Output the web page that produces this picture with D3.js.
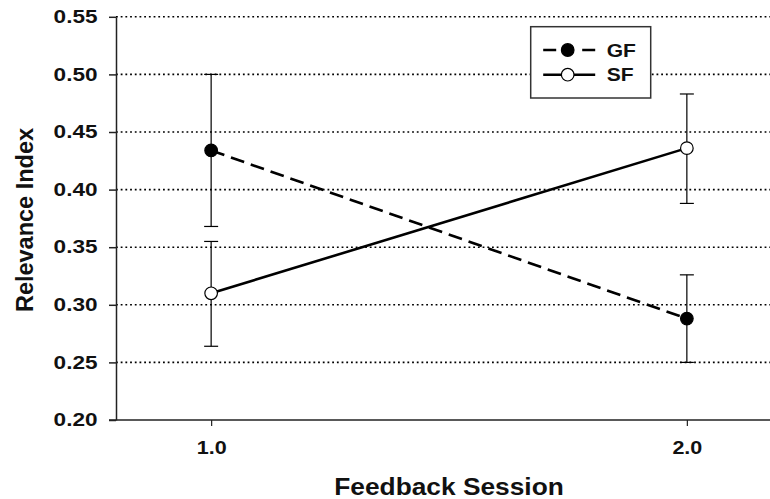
<!DOCTYPE html>
<html>
<head>
<meta charset="utf-8">
<script src="https://cdn.jsdelivr.net/npm/d3@7"></script>
<style>
  body { margin: 0; background: #fff; }
  svg { display: block; font-family: "Liberation Sans", Arial, sans-serif; font-weight: bold; }
</style>
</head>
<body>
<div id="chart"></div>
<script>
const sessions = [1.0, 2.0];
const gfMean = [0.434, 0.288];
const gfLow = [0.368, 0.250];
const gfHigh = [0.500, 0.326];
const sfMean = [0.310, 0.436];
const sfLow = [0.264, 0.388];
const sfHigh = [0.355, 0.483];
const yTicks = [0.20, 0.25, 0.30, 0.35, 0.40, 0.45, 0.50, 0.55];
const xTicks = [1.0, 2.0];

const config = {
  width: 770,
  height: 499,
  margin: {top: 16.8, left: 116, right: -12, bottom: 79},
  dot: {radius: 6.3},
  lineWidth: 2.6
};

const width = config.width, height = config.height, m = config.margin;

const xScale = d3.scaleLinear([0.8, 2.2], [m.left, width - m.right]);
const yScale = d3.scaleLinear([0.20, 0.55], [height - m.bottom, m.top]);

const svg = d3.select("#chart")
  .append("svg")
  .attr("width", width)
  .attr("height", height)
  .attr("viewBox", [0, 0, width, height]);

// dotted grid lines
svg.append("g")
  .selectAll("line")
  .data(yTicks.filter(d => d > 0.2))
  .join("line")
  .attr("x1", m.left)
  .attr("x2", width)
  .attr("y1", d => yScale(d))
  .attr("y2", d => yScale(d))
  .attr("stroke", "#000")
  .attr("stroke-width", 1.6)
  .attr("stroke-dasharray", "1.8,2.9");

const series = [
  {name: "GF", mean: gfMean, low: gfLow, high: gfHigh, fill: "#000", dash: "14,7"},
  {name: "SF", mean: sfMean, low: sfLow, high: sfHigh, fill: "#fff", dash: null}
];

// error bars
series.forEach(s => {
  const g = svg.append("g").attr("stroke", "#000").attr("stroke-width", 1.2);
  g.selectAll(".bar")
    .data(sessions)
    .join("line")
    .attr("x1", d => xScale(d))
    .attr("x2", d => xScale(d))
    .attr("y1", (d, i) => yScale(s.low[i]))
    .attr("y2", (d, i) => yScale(s.high[i]));
  g.selectAll(".capLow")
    .data(sessions)
    .join("line")
    .attr("x1", d => xScale(d) - 7)
    .attr("x2", d => xScale(d) + 7)
    .attr("y1", (d, i) => yScale(s.low[i]))
    .attr("y2", (d, i) => yScale(s.low[i]));
  g.selectAll(".capHigh")
    .data(sessions)
    .join("line")
    .attr("x1", d => xScale(d) - 7)
    .attr("x2", d => xScale(d) + 7)
    .attr("y1", (d, i) => yScale(s.high[i]))
    .attr("y2", (d, i) => yScale(s.high[i]));
});

// lines
const line = d3.line()
  .x(d => xScale(d[0]))
  .y(d => yScale(d[1]));

series.forEach(s => {
  svg.append("path")
    .datum(sessions.map((d, i) => [d, s.mean[i]]))
    .attr("fill", "none")
    .attr("stroke", "#000")
    .attr("stroke-width", config.lineWidth)
    .attr("stroke-dasharray", s.dash)
    .attr("d", line);
});

// markers
series.forEach(s => {
  svg.append("g")
    .selectAll("circle")
    .data(sessions)
    .join("circle")
    .attr("cx", d => xScale(d))
    .attr("cy", (d, i) => yScale(s.mean[i]))
    .attr("r", config.dot.radius)
    .attr("fill", s.fill)
    .attr("stroke", "#000")
    .attr("stroke-width", 1.2);
});

// axes
const yAxis = d3.axisLeft(yScale).tickValues(yTicks).tickFormat(d3.format(".2f")).tickSize(7).tickSizeOuter(0);
const xAxis = d3.axisBottom(xScale).tickValues(xTicks).tickFormat(d3.format(".1f")).tickSize(6).tickSizeOuter(0);

svg.append("g")
  .attr("transform", `translate(0,${height - m.bottom})`)
  .call(xAxis)
  .call(g => g.select(".domain")
    .attr("d", `M${m.left - 7},0H${width}`)
    .attr("stroke", "#222")
    .attr("stroke-width", 1.5))
  .call(g => g.selectAll(".tick line").attr("stroke", "#222").attr("stroke-width", 1.2))
  .call(g => g.selectAll(".tick text")
    .attr("font-family", null)
    .attr("font-size", 17.5)
    .attr("fill", "#111")
    .attr("y", 21.6)
    .attr("transform", "scale(1.23,1)"));

svg.append("g")
  .attr("transform", `translate(${m.left},0)`)
  .call(yAxis)
  .call(g => g.select(".domain").attr("stroke", "#222").attr("stroke-width", 1.5))
  .call(g => g.selectAll(".tick line").attr("stroke", "#222").attr("stroke-width", 1.5))
  .call(g => g.selectAll(".tick text")
    .attr("font-family", null)
    .attr("font-size", 17.5)
    .attr("fill", "#111")
    .attr("x", -18.5 / 1.29)
    .attr("transform", "scale(1.29,1)"));

// axis titles
svg.append("text")
  .attr("transform", `translate(${xScale(1.5)},${494.5}) scale(1.12,1)`)
  .attr("text-anchor", "middle")
  .attr("font-size", 23.5)
  .attr("fill", "#111")
  .text("Feedback Session");

svg.append("text")
  .attr("transform", `translate(33.3,${220}) rotate(-90)`)
  .attr("text-anchor", "middle")
  .attr("font-size", 23.5)
  .attr("fill", "#111")
  .text("Relevance Index");

// legend
const legend = svg.append("g").attr("transform", "translate(530.7,26.7)");
legend.append("rect")
  .attr("width", 120)
  .attr("height", 71.3)
  .attr("fill", "#fff")
  .attr("stroke", "#333")
  .attr("stroke-width", 1.5);

const legendRows = legend.selectAll(".row")
  .data(series)
  .join("g")
  .attr("transform", (d, i) => `translate(0,${23.3 + i * 24.7})`);

legendRows.append("line")
  .attr("x1", 12.5)
  .attr("x2", 64.5)
  .attr("stroke", "#000")
  .attr("stroke-width", config.lineWidth)
  .attr("stroke-dasharray", d => d.dash ? "13,26" : null);

legendRows.append("circle")
  .attr("cx", 37)
  .attr("r", config.dot.radius)
  .attr("fill", d => d.fill)
  .attr("stroke", "#000")
  .attr("stroke-width", 1.2);

legendRows.append("text")
  .attr("transform", "translate(76,6.6) scale(1.17,1)")
  .attr("font-size", 18)
  .attr("fill", "#111")
  .text(d => d.name);
</script>
</body>
</html>
